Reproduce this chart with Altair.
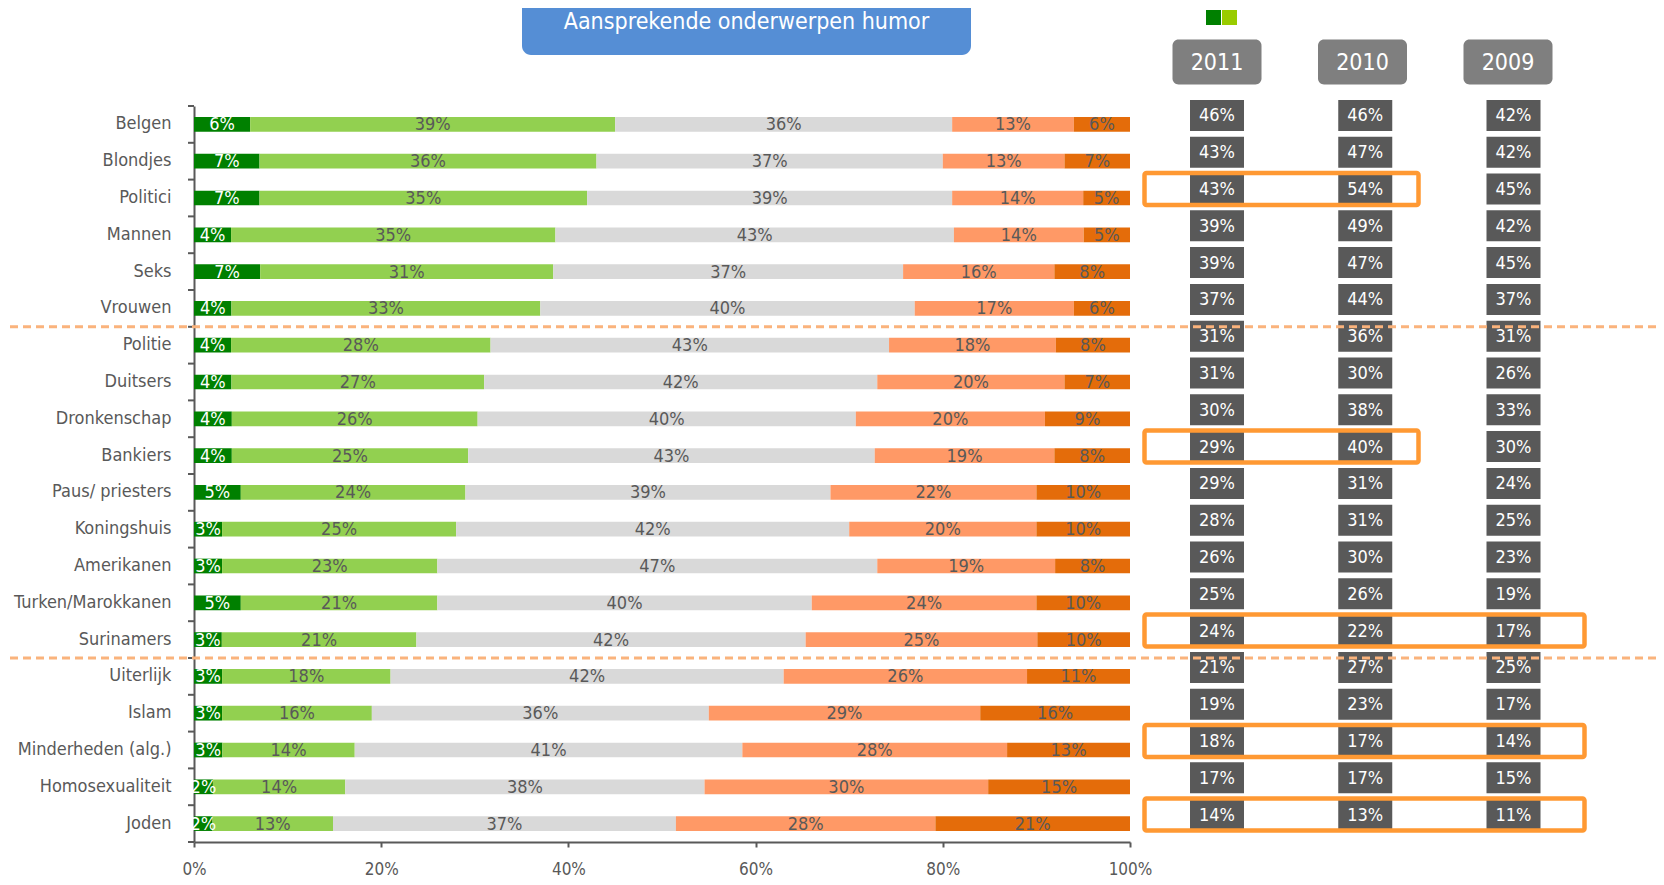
import altair as alt
import pandas as pd

# ---------------- data ----------------
title_text = "Aansprekende onderwerpen humor"
topics = ["Belgen", "Blondjes", "Politici", "Mannen", "Seks", "Vrouwen",
          "Politie", "Duitsers", "Dronkenschap", "Bankiers", "Paus/ priesters",
          "Koningshuis", "Amerikanen", "Turken/Marokkanen", "Surinamers",
          "Uiterlijk", "Islam", "Minderheden (alg.)", "Homosexualiteit", "Joden"]
seg_very_appealing = [6, 7, 7, 4, 7, 4, 4, 4, 4, 4, 5, 3, 3, 5, 3, 3, 3, 3, 2, 2]
seg_appealing = [39, 36, 35, 35, 31, 33, 28, 27, 26, 25, 24, 25, 23, 21, 21, 18, 16, 14, 14, 13]
seg_neutral = [36, 37, 39, 43, 37, 40, 43, 42, 40, 43, 39, 42, 47, 40, 42, 42, 36, 41, 38, 37]
seg_unappealing = [13, 13, 14, 14, 16, 17, 18, 20, 20, 19, 22, 20, 19, 24, 25, 26, 29, 28, 30, 28]
seg_very_unappealing = [6, 7, 5, 5, 8, 6, 8, 7, 9, 8, 10, 10, 8, 10, 10, 11, 16, 13, 15, 21]
top2_2011 = [46, 43, 43, 39, 39, 37, 31, 31, 30, 29, 29, 28, 26, 25, 24, 21, 19, 18, 17, 14]
top2_2010 = [46, 47, 54, 49, 47, 44, 36, 30, 38, 40, 31, 31, 30, 26, 22, 27, 23, 17, 17, 13]
top2_2009 = [42, 42, 45, 42, 45, 37, 31, 26, 33, 30, 24, 25, 23, 19, 17, 25, 17, 14, 15, 11]
years = ["2011", "2010", "2009"]
segments = ["zeer aansprekend", "aansprekend", "neutraal", "niet aansprekend", "helemaal niet aansprekend"]
seg_colors = ["#008000", "#92D050", "#D9D9D9", "#FF9966", "#E46C0A"]
legend_colors = ["#008000", "#99CC00"]
highlight_short = ["Politici", "Bankiers"]                    # 2011 + 2010
highlight_long = ["Surinamers", "Minderheden (alg.)", "Joden"]  # 2011 + 2010 + 2009
group_breaks = ["Politie", "Uiterlijk"]

# ---------------- tables ----------------
seg_values = [seg_very_appealing, seg_appealing, seg_neutral, seg_unappealing, seg_very_unappealing]
bar_rows = []
for i, t in enumerate(topics):
    for j, seg in enumerate(segments):
        bar_rows.append({"topic": t, "segment": seg, "order": j, "value": seg_values[j][i]})
bars_df = pd.DataFrame(bar_rows)

tab_rows = []
for i, t in enumerate(topics):
    for y, vals in zip(years, [top2_2011, top2_2010, top2_2009]):
        tab_rows.append({"topic": t, "year": y, "value": vals[i]})
tab_df = pd.DataFrame(tab_rows)

# ---------------- style ----------------
FONT = "DejaVu Sans Condensed, Liberation Sans Narrow, DejaVu Sans, sans-serif"
GREY = "#595959"
W, H = 936, 736
STEP = H / len(topics)
ROW_SHIFT = -9


def rect_path(w, h, r=0.0):
    s = w / 2.0
    hw, hh, rr = 1.0, (h / 2.0) / s, r / s
    if rr <= 0:
        return f"M-1,{-hh:.4f}H1V{hh:.4f}H-1Z"
    return (f"M{-hw + rr:.4f},{-hh:.4f}H{hw - rr:.4f}"
            f"A{rr:.4f},{rr:.4f} 0 0 1 {hw:.4f},{-hh + rr:.4f}V{hh - rr:.4f}"
            f"A{rr:.4f},{rr:.4f} 0 0 1 {hw - rr:.4f},{hh:.4f}H{-hw + rr:.4f}"
            f"A{rr:.4f},{rr:.4f} 0 0 1 {-hw:.4f},{hh - rr:.4f}V{-hh + rr:.4f}"
            f"A{rr:.4f},{rr:.4f} 0 0 1 {-hw + rr:.4f},{-hh:.4f}Z")


y_axis = alt.Axis(title=None, ticks=False, labelFontSize=18, labelColor=GREY, labelFont=FONT,
                  labelPadding=23, domainColor=GREY, domainWidth=2)
y_scale = alt.Scale(domain=topics, paddingInner=0.6, paddingOuter=0.3)


def Y(**kw):
    return alt.Y("topic:N", sort=topics, scale=y_scale, axis=y_axis, **kw)


x_scale = alt.Scale(domain=[0, 1], nice=False)
x_axis = alt.Axis(title=None, values=[0, 0.2, 0.4, 0.6, 0.8, 1.0], format=".0%", grid=False,
                  tickSize=5, tickWidth=2, tickColor=GREY, domainColor=GREY, domainWidth=2,
                  labelFontSize=17, labelColor=GREY, labelFont=FONT, labelPadding=14,
                  labelFlush=False)

year_x = alt.X("year:N", sort=years,
               scale=alt.Scale(type="point", domain=years, range=[1023, 1319.5], padding=0),
               axis=None)
hdr_x = alt.X("year:N", sort=years,
              scale=alt.Scale(type="point", domain=years, range=[1023, 1314], padding=0),
              axis=None)

# ---------------- decorations ----------------
one = pd.DataFrame({"t": [title_text]})
title_box = alt.Chart(one).mark_rect(color="#558ED5", cornerRadius=9).encode(
    x=alt.value(328), x2=alt.value(777), y=alt.value(-130), y2=alt.value(-51))
title_txt = alt.Chart(one).mark_text(color="white", fontSize=23, font=FONT, baseline="middle").encode(
    x=alt.value(552.5), y=alt.value(-84), text="t:N")

leg1 = alt.Chart(pd.DataFrame({"c": [legend_colors[0]]})).mark_rect(color=legend_colors[0]).encode(
    x=alt.value(1012), x2=alt.value(1027), y=alt.value(-96), y2=alt.value(-81))
leg2 = alt.Chart(pd.DataFrame({"c": [legend_colors[1]]})).mark_rect(color=legend_colors[1]).encode(
    x=alt.value(1028), x2=alt.value(1043), y=alt.value(-96), y2=alt.value(-81))

hdr_df = pd.DataFrame({"year": years})
hdr_box = alt.Chart(hdr_df).mark_point(shape=rect_path(89, 45, 6), size=89 * 89, filled=True,
                                       fill="#7F7F7F", strokeWidth=0, opacity=1).encode(
    x=hdr_x, y=alt.value(-44))
hdr_txt = alt.Chart(hdr_df).mark_text(color="white", fontSize=23, font=FONT, baseline="middle", dy=1).encode(
    x=hdr_x, y=alt.value(-44), text="year:N")

# ---------------- stacked bars ----------------
bars_base = alt.Chart(bars_df).transform_joinaggregate(
    total="sum(value)", groupby=["topic"]
).transform_window(
    cum="sum(value)", sort=[alt.SortField("order")], groupby=["topic"], frame=[None, 0]
).transform_calculate(
    start="(datum.cum - datum.value) / datum.total",
    end="datum.cum / datum.total",
    mid="(datum.cum - datum.value / 2) / datum.total",
    label="datum.value + '%'",
)
bars = bars_base.mark_bar().encode(
    x=alt.X("start:Q", scale=x_scale, axis=x_axis),
    x2="end:Q",
    y=Y(),
    color=alt.Color("segment:N", scale=alt.Scale(domain=segments, range=seg_colors), legend=None),
)
bar_labels = bars_base.mark_text(fontSize=18, font=FONT, baseline="middle", dy=1).encode(
    x=alt.X("mid:Q", scale=x_scale, axis=x_axis),
    y=Y(),
    text="label:N",
    color=alt.condition(alt.datum.order == 0, alt.value("white"), alt.value(GREY)),
)
bar_layer = alt.layer(bars, bar_labels)

topic_df = pd.DataFrame({"topic": topics})
y_ticks = alt.Chart(topic_df).mark_rule(color=GREY, strokeWidth=2, yOffset=-STEP / 2).encode(
    x=alt.value(-6), x2=alt.value(0), y=Y())
y_tick_end = alt.Chart(pd.DataFrame({"topic": [topics[-1]]})).mark_rule(
    color=GREY, strokeWidth=2, yOffset=STEP / 2).encode(
    x=alt.value(-6), x2=alt.value(0), y=Y())

# ---------------- year table ----------------
tab_base = alt.Chart(tab_df).transform_calculate(label="datum.value + '%'")
val_box = tab_base.mark_point(shape=rect_path(54, 31), size=54 * 54, filled=True, fill=GREY,
                              strokeWidth=0, opacity=1, yOffset=ROW_SHIFT).encode(
    x=year_x, y=Y())
val_txt = tab_base.mark_text(color="white", fontSize=18, font=FONT, baseline="middle",
                             yOffset=ROW_SHIFT + 1).encode(
    x=year_x, y=Y(), text="label:N")

dashes = alt.Chart(pd.DataFrame({"topic": group_breaks})).mark_rule(
    color="#FAB37C", strokeWidth=3, strokeDash=[8, 5], yOffset=-STEP / 2).encode(
    x=alt.value(-184), x2=alt.value(1470), y=Y())

hl_short = alt.Chart(pd.DataFrame({"topic": highlight_short})).mark_point(
    shape=rect_path(274, 32, 2), size=274 * 274, filled=False, stroke="#FF9933",
    strokeWidth=4.5, opacity=1, yOffset=ROW_SHIFT).encode(
    x=alt.value(1087.5), y=Y())
hl_long = alt.Chart(pd.DataFrame({"topic": highlight_long})).mark_point(
    shape=rect_path(440, 32, 2), size=440 * 440, filled=False, stroke="#FF9933",
    strokeWidth=4.5, opacity=1, yOffset=ROW_SHIFT).encode(
    x=alt.value(1170.5), y=Y())

chart = alt.layer(
    title_box, title_txt, leg1, leg2, hdr_box, hdr_txt,
    bar_layer, y_ticks, y_tick_end,
    val_box, val_txt, dashes, hl_short, hl_long,
).resolve_scale(x="independent").properties(
    width=W, height=H,
    autosize=alt.AutoSizeParams(type="none"),
    padding={"left": 186, "top": 98, "right": 526, "bottom": 35},
).configure_view(stroke=None)

chart.save("out.html", embed_options={"renderer": "svg", "actions": False})
